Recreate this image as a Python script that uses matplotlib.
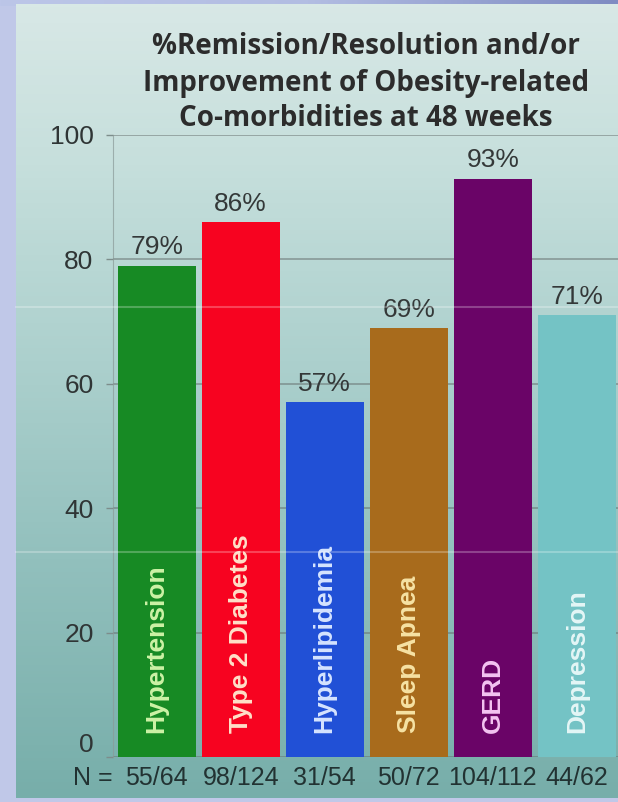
import numpy as np
import matplotlib
matplotlib.use("Agg")
import matplotlib.pyplot as plt
from matplotlib.colors import LinearSegmentedColormap
from matplotlib.lines import Line2D

categories = ["Hypertension", "Type 2 Diabetes", "Hyperlipidemia",
              "Sleep Apnea", "GERD", "Depression"]
percent = [79, 86, 57, 69, 93, 71]
n_labels = ["55/64", "98/124", "31/54", "50/72", "104/112", "44/62"]
yticks = [0, 20, 40, 60, 80, 100]

bar_colors = ["#178a24", "#f70320", "#2150d6", "#a86b1c", "#6a0467", "#74c3c5"]
text_colors = ["#cdf2a6", "#ffe0c8", "#d6e4ff", "#f6e2a4", "#f4c4f2", "#e4f6f6"]

W, H = 618, 802
fig = plt.figure(figsize=(W / 100, H / 100), dpi=100)
fig.patch.set_facecolor("#c0c8e8")

# slide background: top band and teal panel
band = fig.add_axes([0, 1 - 6 / H, 1, 6 / H])
band.imshow(np.linspace(0, 1, 256)[None, :], aspect="auto", extent=[0, 1, 0, 1],
            cmap=LinearSegmentedColormap.from_list("band", ["#bcc6e8", "#b2bde2", "#7e8bc2"]))
band.axis("off")

panel = fig.add_axes([16 / W, 4 / H, 602 / W, 794 / H])
panel_cmap = LinearSegmentedColormap.from_list(
    "panel", [(0, "#77aeaa"), (0.3, "#92c0bd"), (0.55, "#acd0cd"),
              (0.8, "#c6dfdc"), (1, "#d8e8e6")])
panel.imshow(np.linspace(0, 1, 256)[:, None], aspect="auto", origin="lower",
             extent=[0, 1, 0, 1], cmap=panel_cmap)
panel.axis("off")

ax = fig.add_axes([113 / W, (H - 757) / H, 505 / W, 622 / H])
ax.patch.set_alpha(0)
x = np.arange(len(categories))
ax.bar(x, percent, width=0.93, color=bar_colors, zorder=3)

ax.set_xlim(-0.52, 5.49)
ax.set_ylim(0, 100)
ax.set_yticks(yticks)
ax.set_xticks([])
ax.tick_params(axis="y", length=5, width=1, color="#7d8d8b", pad=9,
               labelsize=19, labelcolor="#2f3535")
for lab in ax.get_yticklabels():
    lab.set_family("Liberation Sans")
# the zero label sits a little above the baseline
ax.get_yticklabels()[0].set_va("bottom")
ax.yaxis.grid(True, color="#66706f", linewidth=1.2, alpha=0.6, zorder=1)
for side in ["top", "right", "bottom"]:
    ax.spines[side].set_visible(False)
ax.spines["left"].set_color("#8a9a98")
ax.spines["left"].set_alpha(0.7)

for xi, val, name, tc in zip(x, percent, categories, text_colors):
    ax.text(xi, val + 1.0, f"{val}%", ha="center", va="bottom", fontsize=19,
            color="#343838", family="Liberation Sans", zorder=4)
    ax.text(xi, 3.8, name, rotation=90, ha="center", va="bottom", fontsize=19,
            fontweight="bold", color=tc, family="Liberation Sans", zorder=4)

for xi, nl in zip(x, n_labels):
    ax.text(xi, -3.3, nl, ha="center", va="center", fontsize=18,
            color="#223232", family="Liberation Sans", clip_on=False)
ax.text(-0.76, -3.3, "N =", ha="center", va="center", fontsize=18,
        color="#223232", family="Liberation Sans", clip_on=False)

title_lines = ["%Remission/Resolution and/or",
               "Improvement of Obesity-related",
               "Co-morbidities at 48 weeks"]
for line, ypix in zip(title_lines, [46, 84, 119]):
    fig.text(366 / W, 1 - ypix / H, line, ha="center", va="center", fontsize=20,
             fontweight="bold", family="Open Sans", color="#2c2c2c")

# faint light streaks across the panel
for ypix in [307, 552]:
    fig.add_artist(Line2D([16 / W, 1], [1 - ypix / H] * 2, color="white",
                          alpha=0.25, linewidth=1.5, zorder=10))

fig.savefig("out.png", dpi=100, facecolor=fig.get_facecolor())
